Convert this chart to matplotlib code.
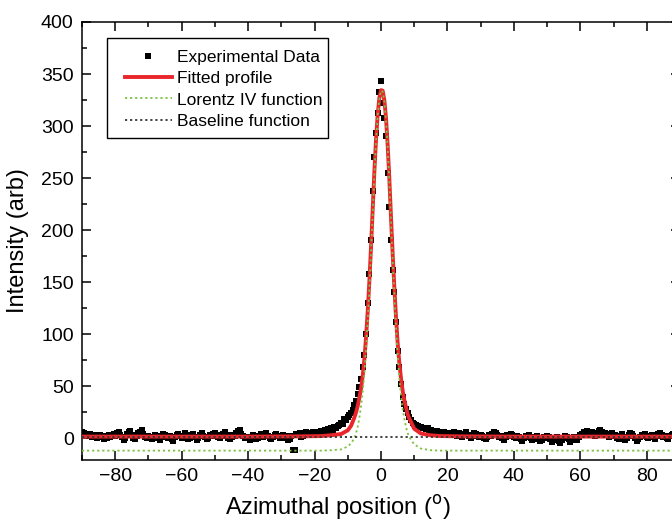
import matplotlib
matplotlib.use("Agg")
import matplotlib.pyplot as plt
from matplotlib.patches import Rectangle
import numpy as np

plt.rcParams['font.family'] = ['Liberation Sans', 'DejaVu Sans']

# experimental data, 0.5 degree steps from -90 to 90
data_x = np.arange(-90, 90.25, 0.5)
data_y = [
    # -90 .. -20.5
    6, 5, 4, 3, 2, 4, 1, 3, 2, 0, 2, 3, 1, -1, 2, 0, 3, 1, 2, 4,
    2, 5, 6, 3, 1, -2, 0, 4, 6, 7, 3, 0, -1, 2, 5, 6, 8, 4, 1, 0,
    2, 1, -1, 0, 3, 2, 0, -2, 1, 4, 3, 1, 0, 2, -1, -3, 1, 3, 4, 2,
    0, 1, 5, 3, -1, 0, 2, 4, 1, -2, 0, 3, 5, 2, 1, -1, 0, 3, 2, 4,
    5, 3, 1, 0, 2, 4, 6, 3, 0, -1, 1, 3, 2, 5, 7, 8, 4, 2, 0, 1,
    0, -2, 1, 3, 2, -1, 0, 2, 4, 1, 3, 5, 2, 0, -1, 1, 3, 4, 2, 0,
    1, 3, 2, 0, -2, -1, 2, -11, -11, 4, 3, 5, 1, 2, 4, 6, 3, 5, 4, 6,
    # -20 .. 20
    5, 3, 6, 4, 7, 5, 8, 6, 9, 7,
    10, 8, 11, 10, 12, 13, 15, 14, 18, 17,
    20, 22, 24, 27, 32, 36, 42, 49, 57, 68,
    80, 100, 130, 158, 190, 238, 270, 293, 313, 333,
    343, 322, 308, 290, 255, 222, 190, 162, 140, 112,
    84, 68, 52, 40, 33, 28, 24, 20, 17, 15,
    14, 13, 12, 11, 11, 10, 10, 9, 10, 8,
    8, 7, 7, 6, 7, 6, 5, 5, 6, 4,
    5,
    # 20.5 .. 90
    4, 5, 3, 6, 4, 2, 5, 3, 1, 4, 6, 3, 2, 0, 3, 5, 4, 2, 1, 3,
    2, 0, -1, 1, 3, 2, 4, 6, 5, 3, 1, 2, 0, -2, 1, 3, 2, 4, 3, 1,
    0, 2, 1, -1, -3, 0, 2, 1, 3, 0, -2, -1, 1, 2, 0, -3, -2, 1, 0, 2,
    1, -1, -4, -2, 0, 1, -3, -5, -2, 0, 2, 1, -1, -4, -2, 1, 0, -2, 1, 3,
    4, 6, 5, 7, 3, 5, 6, 4, 2, 5, 7, 8, 6, 4, 5, 3, 1, 4, 5, 2,
    3, 0, -1, 2, 4, 1, -2, 0, 3, 5, 4, 2, 0, -3, -1, 1, 3, 2, 4, 1,
    0, 2, 3, 1, -1, 2, 4, 5, 3, 1, 2, 0, -1, 2, 3, 4, 5, 3, 2, 1,
]

# fitted curves
fit_x = [-90, -40, -25, -18, -15, -12, -10, -9, -8, -7.5, -7, -6.5, -6, -5.5,
         -5, -4.5, -4, -3.5, -3, -2.5, -2, -1.5, -1, -0.5, 0, 0.5, 1, 1.5, 2,
         2.5, 3, 3.5, 4, 4.5, 5, 5.5, 6, 6.5, 7, 7.5, 8, 8.5, 10, 12, 15, 18,
         25, 40, 90]
fit_y = [1.5, 1.5, 1.7, 2, 2.8, 4, 7.5, 12, 20, 25, 31, 39, 48, 60,
         76, 97, 122, 151, 184, 220, 256, 287, 311, 327, 334.5, 334, 325, 308, 282,
         250, 213, 178, 146, 117, 92, 73, 58, 46, 37, 30, 23, 19, 9, 4.5, 2.7, 2,
         1.7, 1.5, 1.5]
lorentz_y = [-12, -12, -12, -12, -11.6, -10.8, -8, -5, 0, 5, 11, 20, 31, 45,
             62, 86, 113, 144, 179, 216, 253, 285, 310, 326, 334, 333, 324, 306, 280,
             247, 209, 172, 139, 108, 80, 58, 41, 28, 19, 11, 5, 1, -6, -10, -11.6, -12,
             -12, -12, -12]
base_x = [-90, 90]
base_y = [1.5, 1.5]

fig = plt.figure(figsize=(6.72, 5.26), dpi=100)
ax = fig.add_axes([82 / 672, 66 / 526, 598 / 672, 438 / 526])

ax.plot(data_x, data_y, 's', color='black', markersize=4.8, markeredgewidth=0,
        label='Experimental Data', zorder=2)
ax.plot(fit_x, fit_y, '-', color='#e8262b', linewidth=2.8,
        label='Fitted profile', zorder=3)
ax.plot(fit_x, lorentz_y, color='#7cc242', linewidth=1.3, dashes=(1.2, 1.6),
        label='Lorentz IV function', zorder=4)
ax.plot(base_x, base_y, color='#333333', linewidth=1.3, dashes=(1.2, 1.6),
        label='Baseline function', zorder=5)

ax.set_xlim(-90, 90)
ax.set_ylim(-21, 400)
ax.set_xticks(np.arange(-80, 81, 20))
ax.set_xticks(np.arange(-90, 91, 10), minor=True)
ax.set_yticks(np.arange(0, 401, 50))
ax.set_yticks(np.arange(0, 401, 25), minor=True)
ax.tick_params(which='both', direction='in', top=True, right=True, width=1.1,
               labelsize=14)
ax.tick_params(which='major', length=6.5, pad=6)
ax.tick_params(which='minor', length=3.4)
for s in ax.spines.values():
    s.set_linewidth(1.1)

ax.set_xlabel('Azimuthal position ($^{\\rm o}$)', fontsize=17)
ax.xaxis.set_label_coords(0.428, -0.075)
ax.set_ylabel('Intensity (arb)', fontsize=17)
ax.yaxis.set_label_coords(-0.088, 0.5)

# legend box drawn by hand, entries placed inside it
ax.add_patch(Rectangle((0.0418, 0.7352), 0.3696, 0.2283, transform=ax.transAxes,
                       facecolor='white', edgecolor='black', linewidth=1.0,
                       zorder=6))
leg = ax.legend(loc='upper left', bbox_to_anchor=(0.0719, 0.937), borderaxespad=0,
                fontsize=12.5, frameon=False, handlelength=2.7,
                labelspacing=0.36, handletextpad=0.3, borderpad=0)
leg.set_zorder(7)

fig.savefig('out.png', dpi=100)
